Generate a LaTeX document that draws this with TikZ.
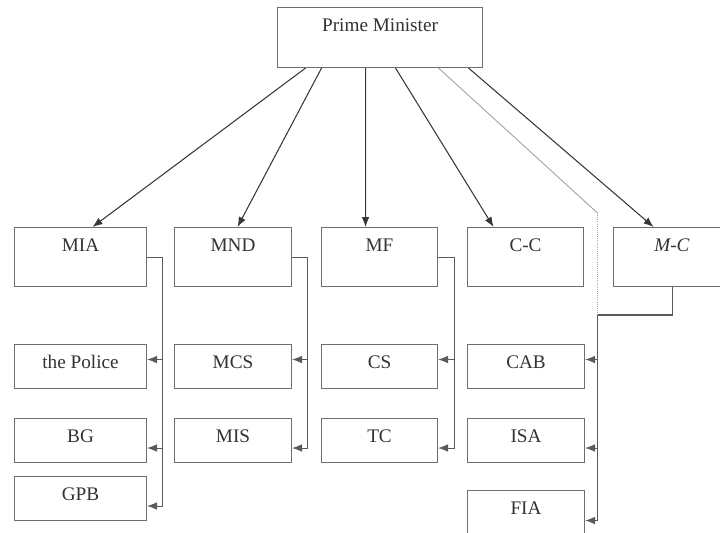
\documentclass[tikz,border=0pt]{standalone}
\usepackage{fontspec}
\setmainfont{Liberation Serif}
\usetikzlibrary{arrows.meta,calc}
\definecolor{boxgray}{RGB}{110,110,110}
\definecolor{linegray}{RGB}{55,55,55}
\definecolor{busgray}{RGB}{90,90,90}
\definecolor{faintgray}{RGB}{165,165,165}
\definecolor{inkgray}{RGB}{50,50,50}

\begin{document}
\begin{tikzpicture}[x=0.03cm, y=-0.03cm,
  font=\fontsize{16.4}{19.7}\selectfont, text=inkgray,
  head/.style={draw=boxgray, line width=0.9pt, inner sep=0pt, anchor=north west,
    text height=0.72cm, text depth=1.05cm},
  sub/.style={draw=boxgray, line width=0.9pt, inner sep=0pt, anchor=north west,
    text height=0.72cm, text depth=0.6cm},
  link/.style={draw=linegray, line width=0.9pt, -{Latex[length=8.5pt,width=6.5pt]}},
  wire/.style={draw=busgray, line width=0.9pt, -{Latex[length=8.5pt,width=6.5pt]}},
  faint/.style={draw=faintgray, line width=0.8pt}]

  \useasboundingbox (0,0) rectangle (720,533);
  \clip (0,0) rectangle (720,533);

  %% ── Top of the tree ─────────────────────────────────────────────
  \node[head, minimum width=6.15cm, text depth=1.08cm] (pm) at (277,7) {Prime Minister};

  %% ── Ministries ──────────────────────────────────────────────────
  \node[head, minimum width=3.96cm] (mia) at (14,227)  {MIA};
  \node[head, minimum width=3.51cm] (mnd) at (174,227) {MND};
  \node[head, minimum width=3.48cm] (mf)  at (321,227) {MF};
  \node[head, minimum width=3.48cm] (cc)  at (467,227) {C-C};
  \node[head, minimum width=3.51cm] (mc)  at (613,227) {\textit{M-C}};

  %% ── Subordinate bodies ──────────────────────────────────────────
  \node[sub, minimum width=3.96cm] (police) at (14,344) {the Police};
  \node[sub, minimum width=3.96cm] (bg)     at (14,418) {BG};
  \node[sub, minimum width=3.96cm] (gpb)    at (14,476) {GPB};

  \node[sub, minimum width=3.51cm] (mcs) at (174,344) {MCS};
  \node[sub, minimum width=3.51cm] (mis) at (174,418) {MIS};

  \node[sub, minimum width=3.48cm] (cs) at (321,344) {CS};
  \node[sub, minimum width=3.48cm] (tc) at (321,418) {TC};

  \node[sub, minimum width=3.51cm] (cab) at (467,344) {CAB};
  \node[sub, minimum width=3.51cm] (isa) at (467,418) {ISA};
  \node[sub, minimum width=3.51cm] (fia) at (467,490) {FIA};

  %% ── Prime Minister to ministries ────────────────────────────────
  \foreach \n/\a/\b in {mia/-74.5/12, mnd/-58.5/4.5, mf/-14.5/-14,
                        cc/15.5/-32, mc/88.5/-18.5}{
    \draw[link] ($(pm.south)+(\a,0)$) -- ($(\n.north)+(\b,0)$);
  }

  %% ── Arrow points on the subordinate boxes ───────────────────────
  \foreach \n in {police, mcs, cs, cab}{
    \coordinate (\n-in) at ($(\n.east)+(0,-7)$);
  }
  \foreach \n in {bg, gpb, mis, tc, isa}{
    \coordinate (\n-in) at ($(\n.east)+(0,7.5)$);
  }
  \coordinate (fia-in) at ($(fia.east)+(0,8)$);

  %% ── Buses down the right of each ministry ───────────────────────
  \coordinate (busA) at ($(mia.east)+(15,0)$);
  \coordinate (busB) at ($(mnd.east)+(15,0)$);
  \coordinate (busC) at ($(mf.east)+(16,0)$);

  \draw[wire] (mia.east) -- (busA) |- (gpb-in);
  \draw[wire] (busA |- police-in) -- (police-in);
  \draw[wire] (busA |- bg-in) -- (bg-in);

  \draw[wire] (mnd.east) -- (busB) |- (mis-in);
  \draw[wire] (busB |- mcs-in) -- (mcs-in);

  \draw[wire] (mf.east) -- (busC) |- (tc-in);
  \draw[wire] (busC |- cs-in) -- (cs-in);

  %% ── M-C bus, feeding the C-C column ─────────────────────────────
  \coordinate (busD) at (597.5,315);
  \draw[wire] (mc.south) |- (busD) |- (fia-in);
  \draw[wire] (busD |- cab-in) -- (cab-in);
  \draw[wire] (busD |- isa-in) -- (isa-in);

  %% ── Faint line from the Prime Minister ──────────────────────────
  \coordinate (bend) at (597.5,213);
  \draw[faint] ($(pm.south)+(58.5,0)$) -- (bend);
  \draw[faint, densely dotted] (bend) -- (busD);

\end{tikzpicture}
\end{document}
